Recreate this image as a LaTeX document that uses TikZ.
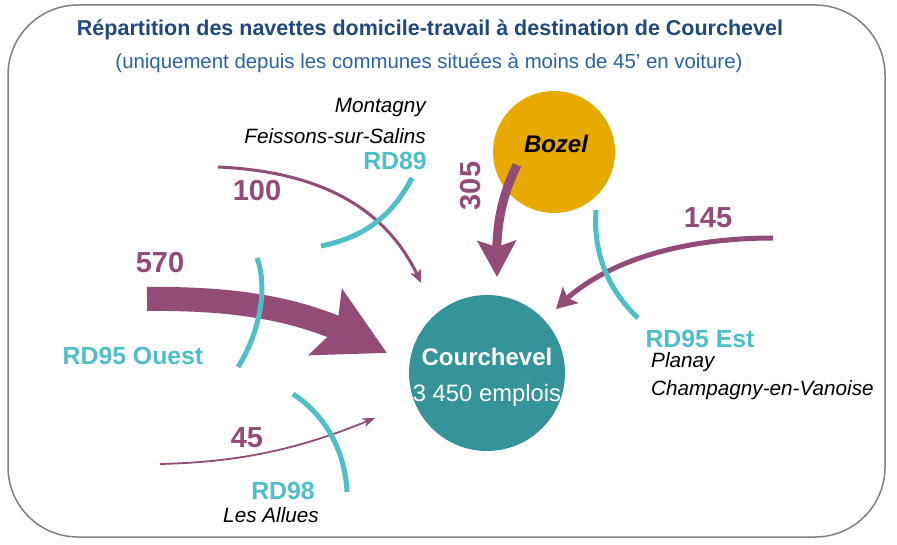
\documentclass[tikz,border=0pt]{standalone}
\usepackage{fontspec}
\setmainfont{Liberation Sans}
\usetikzlibrary{arrows.meta,bending}
\definecolor{flow}{RGB}{147,75,120}
\definecolor{road}{RGB}{78,190,199}
\definecolor{hub}{RGB}{52,148,153}
\definecolor{bozelc}{RGB}{232,169,0}
\definecolor{titlec}{RGB}{31,73,125}
\definecolor{subc}{RGB}{40,100,165}
\definecolor{framec}{RGB}{128,128,128}
\tikzset{
  frame/.style={draw=framec,line width=1.5pt,rounded corners=70pt},
  roadarc/.style={draw=road,line width=5pt},
  flowline/.style={draw=flow},
  num/.style={text=flow,font=\fontsize{29}{31}\selectfont\bfseries,inner sep=0pt},
  roadlbl/.style={text=road,font=\fontsize{24.8}{27}\selectfont\bfseries,inner sep=0pt},
  place/.style={text=black,font=\fontsize{20.7}{23}\selectfont\itshape,inner sep=0pt},
}
\begin{document}
\begin{tikzpicture}[x=1pt,y=-1pt]
\useasboundingbox (0,0) rectangle (897,545);
\draw[frame] (8,5) rectangle (885,537);

% title
\node[anchor=base,text=titlec,font=\fontsize{21.5}{24}\selectfont\bfseries,inner sep=0pt] (title) at (430,36)
  {Répartition des navettes domicile-travail à destination de Courchevel};
\node[anchor=base,text=subc,font=\fontsize{20.4}{22}\selectfont,inner sep=0pt] (subtitle) at (429,69)
  {(uniquement depuis les communes situées à moins de 45’ en voiture)};

% circles
\node[circle,fill=hub,minimum size=156pt,inner sep=0pt] (courchevel) at (487,373) {};
\node[text=white,font=\fontsize{24}{26}\selectfont\bfseries,inner sep=0pt] (ctitle) at (487,357) {Courchevel};
\node[text=white,font=\fontsize{23.8}{26}\selectfont,inner sep=0pt] (cjobs) at (487,395) {3 450 emplois};
\node[circle,fill=bozelc,minimum size=122pt,inner sep=0pt] (bozel) at (554,152) {};
\node[text=black,font=\fontsize{24}{26}\selectfont\bfseries\itshape,inner sep=0pt] (bozellbl) at (556,144) {Bozel};

% flow endpoints
\coordinate (s570) at (147,299);
\coordinate (t570) at (387,353);
\coordinate (s305) at (517,165);
\coordinate (t305) at (497,277);
\coordinate (s145) at (773,238);
\coordinate (t145) at (556,309);
\coordinate (s100) at (218,167);
\coordinate (t100) at (421,283);
\coordinate (s45) at (160,464);
\coordinate (t45) at (375,418);

% flows
\draw[flowline,line width=24pt,-{Stealth[length=68pt,width=72pt,inset=12pt,flex]}]
  (s570) .. controls (250,298) and (318,312) .. (t570);
\draw[flowline,line width=9pt,-{Stealth[length=36pt,width=38pt,inset=6pt,flex]}]
  (s305) .. controls (500,200) and (495,230) .. (t305);
\draw[flowline,line width=5pt,-{Stealth[length=20pt,width=22pt,inset=4pt,flex]}]
  (s145) .. controls (680,238) and (600,262) .. (t145);
\draw[flowline,line width=3pt,-{Stealth[length=13pt,width=11pt,inset=3pt,flex]}]
  (s100) .. controls (330,172) and (392,215) .. (t100);
\draw[flowline,line width=1.8pt,-{Stealth[length=12pt,width=9pt,inset=3pt,flex]}]
  (s45) .. controls (250,462) and (310,445) .. (t45);

% roads
\coordinate (a89) at (412,178);
\coordinate (b89) at (321,246);
\coordinate (aW) at (257,258);
\coordinate (bW) at (238,367);
\coordinate (aE) at (596,210);
\coordinate (bE) at (638,318);
\coordinate (a98) at (293,394);
\coordinate (b98) at (347,492);
\draw[roadarc] (a89) .. controls (390,220) and (360,238) .. (b89);
\draw[roadarc] (aW) .. controls (268,288) and (260,332) .. (bW);
\draw[roadarc] (aE) .. controls (593,250) and (606,288) .. (bE);
\draw[roadarc] (a98) .. controls (325,415) and (345,450) .. (b98);

% numbers
\node[num] (n570) at (160,263) {570};
\node[num] (n100) at (257,191) {100};
\node[num] (n145) at (708,218) {145};
\node[num] (n45) at (247,438) {45};
\node[num,rotate=90] (n305) at (471,186) {305};

% road labels
\node[roadlbl] (l89) at (395,161) {RD89};
\node[roadlbl] (lW) at (133,356) {RD95 Ouest};
\node[roadlbl] (lE) at (700,339) {RD95 Est};
\node[roadlbl] (l98) at (283,491) {RD98};

% places
\node[place,anchor=east] (montagny) at (426,108) {Montagny};
\node[place,anchor=east] (feissons) at (426,136) {Feissons-sur-Salins};
\node[place,anchor=west] (planay) at (651,362) {Planay};
\node[place,anchor=west] (champagny) at (651,390) {Champagny-en-Vanoise};
\node[place] (allues) at (271,515) {Les Allues};
\end{tikzpicture}
\end{document}
